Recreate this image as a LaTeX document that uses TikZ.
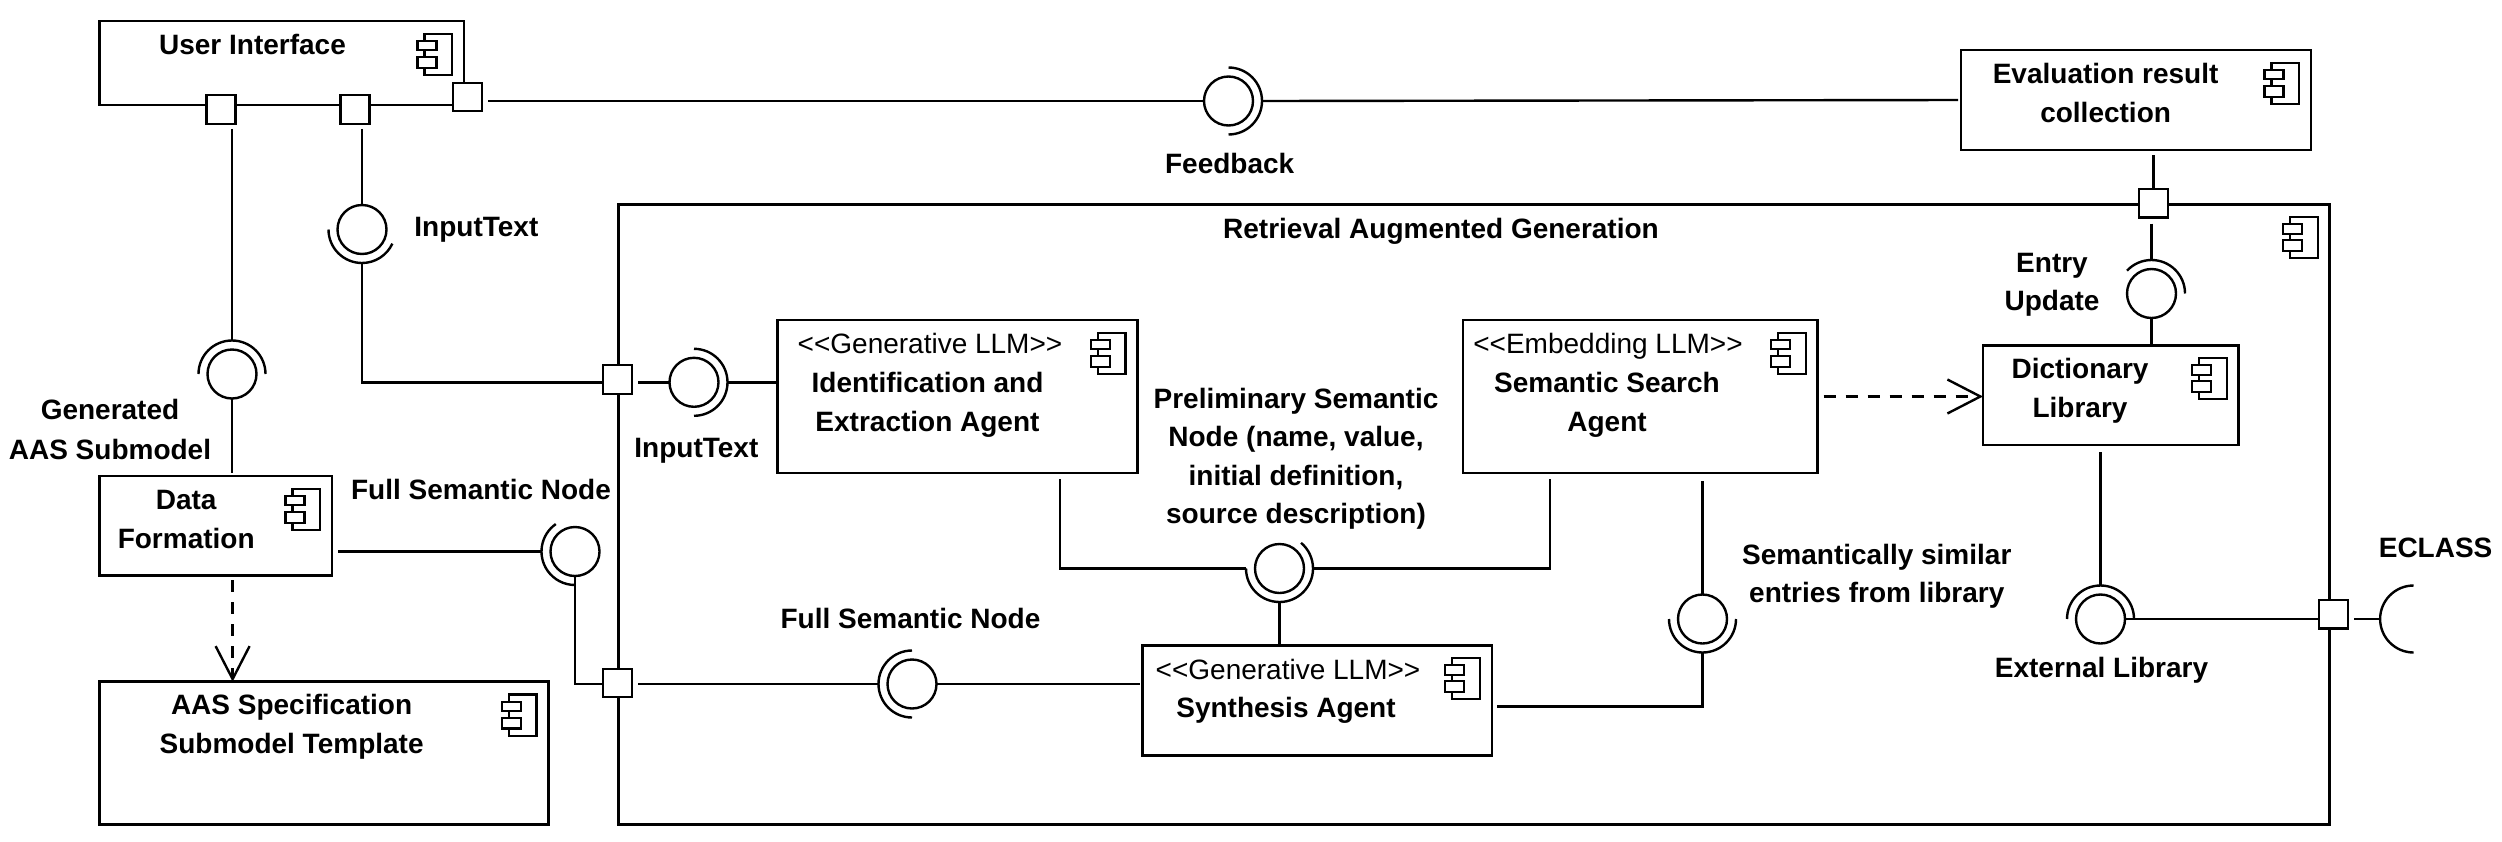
\documentclass[tikz,border=0pt]{standalone}
\usepackage{fontspec}
\setmainfont{Liberation Sans}
\usetikzlibrary{arrows.meta}
\begin{document}
\begin{tikzpicture}[
        x=1pt,y=-1pt,
        every node/.style={font=\fontsize{28}{38.3}\selectfont, inner sep=0pt, outer sep=0pt},
        comp/.style={draw, line width=2.6pt},
        port/.style={draw, fill=white, line width=2.4pt, minimum width=29pt, minimum height=28.5pt},
        ball/.style={draw, circle, line width=2.4pt, minimum size=49pt},
        ring/.style={circle, minimum size=67pt},
        conn/.style={draw, line width=2.4pt},
        gap/.style={shorten <=#1},
        depend/.style={conn, dash pattern=on 12pt off 10pt, -{Straight Barb[length=33pt,width=34pt,line width=2.4pt]}},
        lbl/.style={font=\fontsize{28}{38.3}\selectfont\bfseries, anchor=base, align=center},
        stereo/.style={anchor=base},
        pics/compicon/.style={code={
            \draw[line width=2.2pt] (-27.5,0) rectangle (0,41.3);
            \draw[line width=2.2pt, fill=white] (-34.5,7.3) rectangle (-15.5,16.6);
            \draw[line width=2.2pt, fill=white] (-34.5,23.3) rectangle (-15.5,34);
        }},
    ]
    \useasboundingbox (0,0) rectangle (2502,841);

    \node[comp, minimum width=364.5pt, minimum height=84pt] (ui) at (281.75,63) {};
    \node[comp, minimum width=232.5pt, minimum height=99.3pt] (data) at (215.75,525.65) {};
    \node[comp, minimum width=449pt, minimum height=142.6pt] (aas) at (324,753) {};
    \node[comp, minimum width=1711.3pt, minimum height=620pt] (rag) at (1474.05,514.3) {};
    \node[comp, minimum width=360pt, minimum height=153pt] (ident) at (957.5,396.5) {};
    \node[comp, minimum width=354.6pt, minimum height=153pt] (search) at (1640.3,396.5) {};
    \node[comp, minimum width=349.1pt, minimum height=110pt] (synth) at (1317.25,700.3) {};
    \node[comp, minimum width=255.6pt, minimum height=99.7pt] (dict) at (2110.8,395.15) {};
    \node[comp, minimum width=350pt, minimum height=100pt] (eval) at (2136,100) {};

    \pic at ([shift={(-12,12.7)}]ui.north east) {compicon};
    \pic at ([shift={(-12,12.7)}]data.north east) {compicon};
    \pic at ([shift={(-12,12.7)}]aas.north east) {compicon};
    \pic at ([shift={(-12,12.7)}]rag.north east) {compicon};
    \pic at ([shift={(-12,12.7)}]ident.north east) {compicon};
    \pic at ([shift={(-12,12.7)}]search.north east) {compicon};
    \pic at ([shift={(-12,12.7)}]synth.north east) {compicon};
    \pic at ([shift={(-12,12.7)}]dict.north east) {compicon};
    \pic at ([shift={(-12,12.7)}]eval.north east) {compicon};

    \node[port] (uiout) at (221,109.5) {};
    \node[port] (uiin) at (355,109.5) {};
    \node[port] (uifb) at (467.5,97) {};
    \node[port] (ragin) at (617.5,379.5) {};
    \node[port] (ragfull) at (617.5,683) {};
    \node[port] (ragtop) at (2153.5,203.3) {};
    \node[port] (ragext) at (2333.5,614.3) {};

    \node[ball] (fb) at (1228.5,101) {};
    \node[ring] (fbr) at (fb) {};
    \node[ball] (gen) at (232,374) {};
    \node[ring] (genr) at (gen) {};
    \node[ball] (inleft) at (362,229.5) {};
    \node[ring] (inleftr) at (inleft) {};
    \node[ball] (inright) at (694,382.3) {};
    \node[ring] (inrightr) at (inright) {};
    \node[ball] (fullleft) at (575,551.5) {};
    \node[ring] (fullleftr) at (fullleft) {};
    \node[ball] (fullmid) at (912,684) {};
    \node[ring] (fullmidr) at (fullmid) {};
    \node[ball] (prelim) at (1279.5,568.5) {};
    \node[ring] (prelimr) at (prelim) {};
    \node[ball] (similar) at (1702.5,619) {};
    \node[ring] (similarr) at (similar) {};
    \node[ball] (update) at (2151.5,293.5) {};
    \node[ring] (updater) at (update) {};
    \node[ball] (extlib) at (2100.5,619) {};
    \node[ring] (extlibr) at (extlib) {};
    \node[ring] (eclass) at (2413.6,619) {};

    \draw[conn] (fbr.-90) arc[start angle=-90, end angle=90, radius=33.5pt];
    \draw[conn] (genr.0) arc[start angle=0, end angle=180, radius=33.5pt];
    \draw[conn] (inleftr.180) arc[start angle=180, end angle=335, radius=33.5pt];
    \draw[conn] (inrightr.-90) arc[start angle=-90, end angle=90, radius=33.5pt];
    \draw[conn] (fullleftr.125) arc[start angle=125, end angle=270, radius=33.5pt];
    \draw[conn] (fullmidr.90) arc[start angle=90, end angle=270, radius=33.5pt];
    \draw[conn] (prelimr.180) arc[start angle=180, end angle=410, radius=33.5pt];
    \draw[conn] (similarr.180) arc[start angle=180, end angle=360, radius=33.5pt];
    \draw[conn] (updater.0) arc[start angle=0, end angle=137, radius=33.5pt];
    \draw[conn] (extlibr.0) arc[start angle=0, end angle=180, radius=33.5pt];
    \draw[conn] (eclass.90) arc[start angle=90, end angle=270, radius=33.5pt];

    \coordinate (identout) at (1060,473);
    \coordinate (searchout) at (1550,473);
    \coordinate (dataout) at (232.6,575.3);

    \draw[conn, gap=6pt] (uifb.east |- fb) -- (fb.west);
    \draw[conn, shorten >=3pt] (fbr.east) -- (eval.west);
    \draw[conn, gap=5pt] (uiout.south -| gen) -- (genr.north);
    \draw[conn, shorten >=3pt] (gen.south) -- (gen.south |- data.north);
    \draw[conn, gap=5pt] (uiin.south -| inleft) -- (inleft.north);
    \draw[conn] (inleftr.south) |- (ragin.west |- inright);
    \draw[conn, gap=6pt] (ragin.east |- inright) -- (inright.west);
    \draw[conn] (inrightr.east) -- (ident.west |- inright);
    \draw[conn, gap=6pt] (data.east |- fullleft) -- (fullleftr.west);
    \draw[conn] (fullleft.south) |- (ragfull.west |- fullmid);
    \draw[conn, gap=6pt] (ragfull.east |- fullmid) -- (fullmidr.west);
    \draw[conn, shorten >=3pt] (fullmid.east) -- (synth.west |- fullmid);
    \draw[conn, gap=6pt] (identout) |- (prelimr.west);
    \draw[conn, shorten >=6pt] (prelimr.east) -| (searchout);
    \draw[conn] (prelimr.south) -- (prelimr.south |- synth.north);
    \draw[conn, gap=8pt] (search.south -| similar) -- (similar.north);
    \draw[conn, shorten >=5pt] (similarr.south) |- ([yshift=-6pt]synth.east);
    \draw[conn, gap=5pt] (eval.south -| ragtop) -- (ragtop.north);
    \draw[conn, gap=6pt] (ragtop.south -| update) -- (updater.north);
    \draw[conn] (update.south) -- (update.south |- dict.north);
    \draw[conn, gap=7pt] (dict.south -| extlib) -- (extlibr.north);
    \draw[conn] (extlib.east) -- (ragext.west |- extlib);
    \draw[conn, gap=6pt] (ragext.east |- eclass) -- (eclass.west);
    \draw[depend, gap=5pt] (dataout) -- (dataout |- aas.north);
    \draw[depend, gap=6pt] (search.east) -- (dict.west |- search.east);

    \node[lbl] (uitext) at (252.5,54.5) {User Interface};
    \node[lbl] (gentext) at (110,459.5) {Generated\\[1.5pt]AAS Submodel};
    \node[lbl] (inlefttext) at (476.4,236.5) {InputText};
    \node[lbl] (inrighttext) at (696.4,457.5) {InputText};
    \node[lbl] (datatext) at (186.2,548) {Data\\Formation};
    \node[lbl] (fulllefttext) at (481,499.5) {Full Semantic Node};
    \node[lbl] (aastext) at (291.6,753) {AAS Specification\\Submodel Template};
    \node[lbl] (fbtext) at (1229.7,173) {Feedback};
    \node[lbl] (ragtext) at (1441,238) {Retrieval Augmented Generation};
    \node[stereo] (identtype) at (930,353.5) {<{}<Generative LLM>{}>};
    \node[lbl] (identtext) at (927.5,431) {Identification and\\Extraction Agent};
    \node[lbl] (prelimtext) at (1296,523.5) {Preliminary Semantic\\Node (name, value,\\initial definition,\\source description)};
    \node[stereo] (searchtype) at (1608,353.5) {<{}<Embedding LLM>{}>};
    \node[lbl] (searchtext) at (1607,431) {Semantic Search\\Agent};
    \node[stereo] (synthtype) at (1288,679.5) {<{}<Generative LLM>{}>};
    \node[lbl] (synthtext) at (1286,717) {Synthesis Agent};
    \node[lbl] (fullmidtext) at (910.5,628.5) {Full Semantic Node};
    \node[lbl] (similartext) at (1876.8,602.5) {Semantically similar\\entries from library};
    \node[lbl] (extlibtext) at (2101.5,677) {External Library};
    \node[lbl] (eclasstext) at (2435.6,557) {ECLASS};
    \node[lbl] (evaltext) at (2105.6,122) {Evaluation result\\collection};
    \node[lbl] (updatetext) at (2052,310.5) {Entry\\Update};
    \node[lbl] (dicttext) at (2080,417) {Dictionary\\Library};
\end{tikzpicture}
\end{document}
